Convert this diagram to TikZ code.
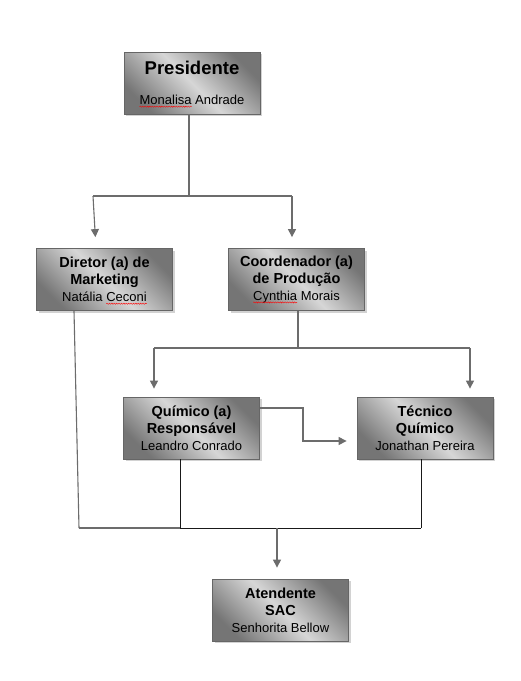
\documentclass[tikz,border=0pt]{standalone}
\usepackage{fontspec}
\setmainfont{Liberation Sans}
\usetikzlibrary{arrows.meta,calc,decorations.pathmorphing}
\newsavebox\sqbox
\newlength\sqlen
\newcommand\sq[1]{\sbox\sqbox{#1}\setlength\sqlen{\wd\sqbox}\usebox\sqbox\tikz[overlay]\draw[red,line width=0.4pt,decorate,decoration={snake,amplitude=0.6pt,segment length=2.4pt}](-\sqlen,-2pt)--(0pt,-2pt);}
\newcommand\ttl{\fontsize{14.5}{17}\selectfont\bfseries}
\newcommand\nm{\fontsize{13}{17}\selectfont\mdseries}
\tikzset{
  box/.style={draw=gray!80!black, line width=0.8pt, minimum width=136pt, minimum height=62pt,
    inner sep=0pt, align=center, font=\ttl, shading=axis, top color=gray!92!black, bottom color=gray!92!black,
    middle color=gray!32, shading angle=-45},
  shadowbox/.style={fill=gray!35, draw=none, minimum width=136pt, minimum height=62pt, inner sep=0pt},
  conn/.style={draw=gray!85!black, line width=1.1pt},
  dconn/.style={draw=black!90, line width=0.9pt},
  arr/.style={conn, -{Triangle[length=8pt,width=8pt]}},
}
\begin{document}
\begin{tikzpicture}[x=1pt,y=-1pt]
\useasboundingbox[fill=white] (0,0) rectangle (521,681);
% shadows
\foreach \p in {(194,85),(106.5,281.5),(298.5,281.5),(193.5,430),(427,430),(282.5,612)}
  \node[shadowbox] at \p {};
\node[box, font=\fontsize{18.5}{27}\selectfont\bfseries] (pres) at (192,83) {Presidente\\[3pt]\nm\sq{Monalisa} Andrade};
\node[box] (dir) at (104.5,279.5) {Diretor (a) de\\Marketing\\\nm Natália \sq{Ceconi}};
\node[box] (coord) at (296.5,279.5) {Coordenador (a)\\de Produção\\\nm \sq{Cynthia} Morais};
\node[box] (quim) at (191.5,428) {Químico (a)\\Responsável\\\nm Leandro Conrado};
\node[box] (tec) at (425,428) {Técnico\\Químico\\\nm Jonathan Pereira};
\node[box] (aten) at (280.5,610) {Atendente\\SAC\\\nm Senhorita Bellow};
% top level
\coordinate (j1) at (189,196);
\draw[conn] ([xshift=-3pt]pres.south) -- (j1);
\draw[arr, shorten >=11pt] ([xshift=-96pt]j1) -- ([xshift=-8.5pt]dir.north);
\draw[conn] ([xshift=-96pt]j1) -- ([xshift=103pt]j1);
\draw[arr, shorten >=11pt] ([xshift=103pt]j1) -- ([xshift=-4.5pt]coord.north);
% second level
\coordinate (j2) at (298,348);
\draw[conn] ([xshift=1.5pt]coord.south) -- (j2);
\draw[conn] (154,348) -- (470,348);
\draw[arr, shorten >=8pt] (154,348) -- ([xshift=-37.5pt]quim.north);
\draw[arr, shorten >=8pt] (470,348) -- ([xshift=45pt]tec.north);
% quimico to tecnico
\draw[arr, shorten >=10pt] ([yshift=20pt]quim.east) -- (303,408) -- (303,441) -- ([yshift=-13pt]tec.west);
% bottom
\coordinate (j3) at (277,528);
\draw[conn] ([xshift=-30.5pt]dir.south) -- (79,528);
\draw[conn] (79,528) -- (181,528);
\draw[dconn] (180,528) -- (421,528);
\draw[dconn] ([xshift=-11.5pt]quim.south) -- (180,528);
\draw[dconn] ([xshift=-4pt]tec.south) -- (421,528);
\draw[arr, shorten >=11pt] (j3) -- ([xshift=-3.5pt]aten.north);
\end{tikzpicture}
\end{document}
